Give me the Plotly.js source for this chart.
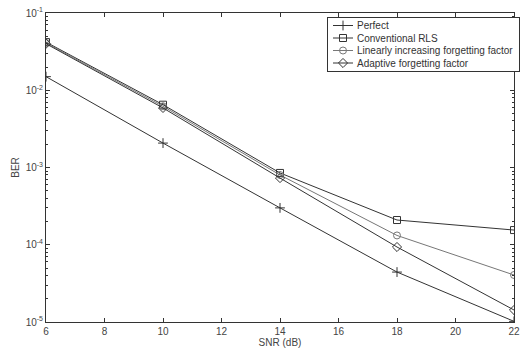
<!DOCTYPE html>
<html><head><meta charset="utf-8">
<script src="https://cdn.plot.ly/plotly-3.0.1.min.js"></script>
<style>html,body{margin:0;padding:0;overflow:hidden;background:#fff}#c{width:526px;height:349px}</style>
</head><body><div id="c"></div>
<script>
const snr = [6, 10, 14, 18, 22];
const perfect = [0.0150, 0.00207, 0.000300, 0.0000443, 0.0000102];
const conventional = [0.0420, 0.00650, 0.000850, 0.000209, 0.000155];
const linearFF = [0.0410, 0.00620, 0.000800, 0.000132, 0.0000406];
const adaptiveFF = [0.0400, 0.00590, 0.000730, 0.0000935, 0.0000143];
const names = ["Perfect", "Conventional RLS", "Linearly increasing forgetting factor", "Adaptive forgetting factor"];
const xTicks = [6, 8, 10, 12, 14, 16, 18, 20, 22];
const yTicks = [1e-5, 1e-4, 1e-3, 1e-2, 1e-1];
const yTickText = ["10<sup>-5</sup>", "10<sup>-4</sup>", "10<sup>-3</sup>", "10<sup>-2</sup>", "10<sup>-1</sup>"];

const series = [perfect, conventional, linearFF, adaptiveFF];
const symbols = ["cross-thin-open", "square-open", "circle-open", "diamond-open"];
const colors = ["#333333", "#333333", "#777777", "#333333"];
const traces = series.map((s, i) => ({
  x: snr, y: s, name: names[i], type: "scatter", mode: "lines+markers",
  line: {color: colors[i], width: 1},
  marker: {symbol: symbols[i], size: 7, color: colors[i], line: {color: colors[i], width: 1}}
}));

const axisCommon = {
  showline: true, linecolor: "#333", linewidth: 1, mirror: "ticks",
  ticks: "inside", ticklen: 4, tickcolor: "#333", showgrid: false, zeroline: false,
  tickfont: {family: "Liberation Sans, Arial, sans-serif", size: 10, color: "#444"}
};
const layout = {
  width: 526, height: 349,
  margin: {l: 46, r: 2, t: 13, b: 27},
  paper_bgcolor: "#fff", plot_bgcolor: "#fff",
  showlegend: true,
  font: {family: "Liberation Sans, Arial, sans-serif", size: 10, color: "#333"},
  xaxis: Object.assign({}, axisCommon, {
    range: [6, 22], tickvals: xTicks, ticktext: xTicks.map(String),
    title: {text: "SNR (dB)", standoff: 2, font: {size: 10, color: "#444"}}
  }),
  yaxis: Object.assign({}, axisCommon, {
    type: "log", range: [-5, -1], tickvals: yTicks, ticktext: yTickText,
    minor: {ticks: "inside", ticklen: 2, tickcolor: "#333", dtick: "D1", showgrid: false},
    title: {text: "BER", standoff: 4, font: {size: 10, color: "#444"}}
  }),
  legend: {
    x: 0.586, y: 0.987, xanchor: "left", yanchor: "top",
    bgcolor: "#fff", bordercolor: "#333", borderwidth: 1,
    font: {size: 10, color: "#333"}, itemwidth: 30, tracegroupgap: 0
  }
};
Plotly.newPlot("c", traces, layout, {displayModeBar: false, staticPlot: true}).then(gd => {
  // compact the legend (tight rows, short line samples) like the reference
  const leg = gd.querySelector(".legend");
  if (!leg) return;
  const items = leg.querySelectorAll(".traces");
  const step = 12.5, first = 8.5, shrink = 11;
  items.forEach((it, i) => {
    const m = /translate\(([-\d.]+)[ ,]+([-\d.]+)\)/.exec(it.getAttribute("transform") || "");
    const tx = m ? m[1] : 0;
    it.setAttribute("transform", `translate(${tx},${first + i * step})`);
    const txt = it.querySelector("text.legendtext");
    if (txt) txt.setAttribute("x", parseFloat(txt.getAttribute("x")) - shrink);
    it.querySelectorAll("path.js-line").forEach(p => p.setAttribute("d", "M5,0h20"));
    it.querySelectorAll("path.scatterpts").forEach(p => p.setAttribute("transform", "translate(15,0)"));
  });
  const bg = leg.querySelector("rect.bg");
  const h = first + (items.length - 1) * step + 8;
  let bw = 0;
  if (bg) {
    bw = parseFloat(bg.getAttribute("width")) - shrink;
    bg.setAttribute("width", bw);
    bg.setAttribute("height", h);
  }
  leg.setAttribute("transform", `translate(${520 - bw - 1},17)`);
});
</script></body></html>
